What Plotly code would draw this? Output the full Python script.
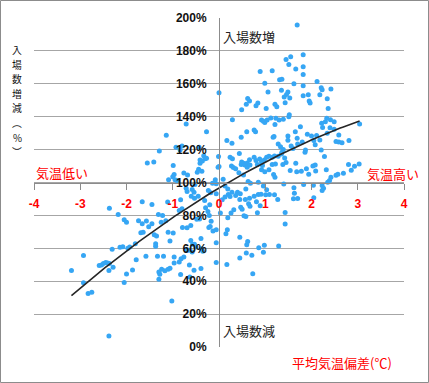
import numpy as np
import plotly.graph_objects as go

# ---- data: average temperature deviation (°C) vs attendance change (%) ----
temp_dev = [
 1.69,1.45,1.55,1.82,1.51,1.66,1.82,0.89,1.15,1.82,1.31,1.36,0.99,2.12,1.62,1.82,2.21,2.23,2.42,1.06,
 1.35,1.49,1.46,1.41,1.53,1.82,1.93,2.18,2.34,1.95,1.97,0.62,0.66,0.59,0.84,0.80,1.21,1.25,1.43,1.02,
 2.36,0.49,1.52,0.00,
 0.29,0.92,0.96,0.99,1.04,1.12,1.23,1.30,1.39,1.51,1.21,0.79,0.76,0.60,0.48,0.17,0.28,1.17,1.19,1.49,
 1.49,1.65,1.76,1.69,1.80,1.91,2.00,1.70,1.56,1.60,1.87,1.86,1.28,1.33,1.39,1.36,2.22,2.24,2.30,2.33,
 2.41,2.49,2.40,2.49,2.34,2.11,2.18,2.53,2.59,2.66,2.59,2.81,3.04,2.28,2.21,2.05,2.08,
 -0.01,0.00,0.24,0.29,0.27,0.31,0.36,0.44,0.49,0.48,0.53,0.56,0.61,0.61,0.66,0.67,0.76,0.80,0.83,0.88,
 0.92,0.94,0.98,1.03,1.08,1.15,1.20,1.28,1.35,1.42,1.45,1.15,1.22,1.38,0.92,0.99,1.08,1.18,1.21,1.66,
 1.54,1.68,1.78,1.89,1.94,2.03,2.08,2.09,2.32,2.42,2.53,2.57,2.69,2.80,2.86,2.93,3.03,0.43,0.53,0.63,
 0.68,0.85,1.40,1.62,1.83,2.04,2.23,2.39,0.09,0.13,0.19,0.58,0.96,1.03,-0.06,2.26,2.35,
 -0.06,0.07,0.13,0.20,0.24,0.28,0.36,0.40,0.46,0.45,0.57,0.66,0.64,0.67,0.76,0.85,0.81,0.91,1.01,1.09,
 1.20,0.89,0.83,1.27,1.61,1.63,1.70,2.05,2.23,0.32,0.47,0.50,0.54,0.58,0.26,0.03,0.19,1.43,1.43,0.18,
 0.15,-0.06,0.45,0.62,0.60,-0.06,0.86,0.98,1.29,0.96,0.59,0.71,0.45,0.17,0.73,-0.06,
 -0.71,-0.27,-1.14,-0.93,-0.80,-0.84,-1.29,-1.55,-1.41,-0.99,-0.43,-0.33,-0.41,-0.30,-0.41,-0.44,-0.37,-0.47,-0.76,-0.68,
 -0.97,-0.95,-1.09,-0.14,-0.91,-1.00,-0.71,-0.69,-0.58,-0.54,-0.52,-0.08,-0.23,-0.18,-0.02,-0.36,-0.27,
 -1.22,-1.25,-0.83,-0.86,-0.80,-0.60,-0.53,-0.45,-0.31,-0.29,-0.20,-0.24,-0.21,-0.17,-0.19,-0.22,-0.13,-0.48,-0.42,-0.79,
 -0.69,-0.61,-0.99,-1.10,-1.06,-0.61,-0.57,-0.53,-0.50,-0.39,-0.38,-0.35,-0.71,-0.65,-0.58,-1.20,-0.97,-0.82,-0.76,-0.97,
 -0.86,-0.64,-0.39,-0.54,-1.24,-1.17,-1.10,-1.06,-1.28,-0.83,-0.63,-1.02,
 -1.66,-1.45,-2.37,-2.18,-2.05,-2.00,-1.74,-1.66,-1.69,-1.64,-1.57,-1.52,-1.45,-1.40,-1.35,-1.37,-1.37,-1.31,-1.33,-1.30,
 -1.30,-1.81,-1.93,-1.97,-2.08,-2.14,-2.31,-2.93,-1.58,-1.79,-2.59,-2.54,-2.50,-2.45,-2.41,-2.37,-2.38,-2.29,-1.87,-2.00,
 -3.19,-2.05,-2.93,-2.83,-2.75,-2.38,-1.11,-1.15,
]
attendance = [
 195.8,174.7,176.5,177.6,171.7,169.0,170.3,167.5,168.0,165.6,162.4,162.8,160.4,161.4,160.0,158.8,157.6,156.4,156.8,155.0,
 156.1,155.0,153.5,152.0,151.3,152.7,153.3,153.3,150.9,149.5,148.3,151.0,149.5,147.5,148.3,146.7,147.5,146.0,148.5,145.0,
 145.0,144.2,141.2,154.5,
 138.2,138.0,137.2,136.4,138.0,139.2,139.0,138.0,138.4,140.0,135.2,130.9,131.9,130.9,127.5,125.5,123.8,127.5,127.9,128.3,
 125.7,130.9,133.9,126.9,124.6,129.3,128.3,123.4,122.2,120.6,119.8,118.4,123.4,121.8,120.0,118.4,136.0,133.5,137.0,139.0,
 138.2,137.0,133.3,132.3,129.9,128.5,125.9,125.0,124.6,124.2,128.9,125.5,135.5,115.8,119.8,125.5,123.0,
 115.8,109.7,115.3,114.5,110.1,109.1,108.3,117.6,112.5,110.9,111.7,110.7,111.9,109.3,113.9,110.7,115.3,113.3,110.9,114.3,
 112.5,110.3,113.7,115.3,115.9,115.3,116.1,115.9,117.3,114.9,112.1,110.9,111.3,110.9,107.7,106.5,107.7,104.8,103.2,111.7,
 107.3,106.5,106.8,108.3,105.0,110.1,110.7,107.0,107.7,103.2,104.4,105.0,105.6,110.9,107.5,109.9,111.3,106.0,104.6,100.6,
 99.6,100.2,99.1,96.8,98.8,98.4,98.2,101.2,102.0,97.9,96.1,96.1,97.9,95.6,99.2,96.5,100.2,
 93.1,89.5,91.2,92.7,91.5,94.1,92.1,94.1,93.1,89.7,89.7,90.5,87.1,85.6,91.7,92.7,88.3,92.9,92.5,92.7,
 92.5,85.9,81.6,89.7,90.1,93.5,90.3,90.7,95.2,83.4,85.0,83.8,79.8,79.4,81.4,81.4,78.6,81.8,74.7,71.3,
 68.9,71.3,66.7,64.2,62.2,63.4,60.4,61.8,61.4,57.6,57.2,55.8,54.1,50.1,44.6,51.3,
 135.6,130.9,128.7,121.4,122.2,119.8,119.2,111.9,112.5,110.3,121.4,116.2,113.7,114.5,111.7,108.1,106.9,106.3,105.7,104.6,
 104.8,101.6,101.6,99.6,101.2,103.5,96.5,94.5,95.8,94.1,98.8,101.6,95.2,93.8,109.3,113.0,114.7,
 80.0,75.9,89.5,83.0,84.0,91.7,90.5,91.7,89.1,84.6,86.5,82.4,80.0,76.4,73.3,72.7,70.5,77.6,77.8,72.7,
 72.5,73.9,69.3,69.7,64.4,64.8,62.4,62.4,60.8,65.9,59.8,58.2,58.8,58.8,57.8,55.2,54.7,53.7,54.7,51.1,
 51.7,49.9,47.7,46.7,47.3,46.3,47.3,47.9,44.2,44.0,42.6,27.9,
 88.3,86.7,84.4,80.6,77.3,75.8,76.7,74.9,69.5,69.7,76.6,73.1,74.9,68.3,67.5,62.8,61.2,80.6,55.2,41.2,
 45.6,62.8,60.8,60.0,61.0,60.6,59.4,55.6,55.2,53.1,49.5,49.9,50.7,51.3,51.1,50.7,46.5,48.5,46.8,44.4,
 46.5,39.2,39.0,32.5,33.3,6.7,88.1,76.8,
]

x_ticks = [-4, -3, -2, -1, 0, 1, 2, 3, 4]
y_ticks = [0, 20, 40, 60, 80, 100, 120, 140, 160, 180, 200]
y_title_chars = ["入", "場", "数", "増", "減", "︵", "%", "︶"]
label_up = "入場数増"
label_down = "入場数減"
label_cold = "気温低い"
label_hot = "気温高い"
x_title = "平均気温偏差(℃)"

# ---- polynomial (order 2) trendline fitted to the data ----
xs = np.array(temp_dev)
ys = np.array(attendance)
coef = np.polyfit(xs, ys, 2)
tx = np.linspace(xs.min(), xs.max(), 120)
ty = np.polyval(coef, tx)

CJK = "Noto Sans CJK JP"
NUM = "Liberation Sans, Arial, sans-serif"

fig = go.Figure()
fig.add_trace(go.Scatter(x=temp_dev, y=attendance, mode="markers",
                         marker=dict(size=5, color="#36A6F4"), showlegend=False))
fig.add_trace(go.Scatter(x=tx, y=ty, mode="lines",
                         line=dict(color="#262626", width=1.6), showlegend=False))

L, R, T, B = 34, 25, 18, 36
W, H = 429, 383
pw, ph = W - L - R, H - T - B

annotations = []
# vertical (stacked) y-axis title, one character per annotation
for i, ch in enumerate(y_title_chars):
    py = 50 + 14.6 * i
    annotations.append(dict(text=ch, xref="paper", yref="paper",
                            x=(17 - L) / pw, y=(H - B - py) / ph,
                            xanchor="center", yanchor="middle", showarrow=False,
                            borderpad=0,
                            font=dict(family=CJK, size=9.8, color="#111")))
annotations += [
    dict(text=label_up, x=0.05, y=189, xref="x", yref="y", xanchor="left", yanchor="middle",
         showarrow=False, font=dict(family=CJK, size=13, color="#222")),
    dict(text=label_down, x=0.05, y=10.3, xref="x", yref="y", xanchor="left", yanchor="middle",
         showarrow=False, font=dict(family=CJK, size=13, color="#222")),
    dict(text=label_cold, x=-3.99, y=105.8, xref="x", yref="y", xanchor="left", yanchor="middle",
         showarrow=False, font=dict(family=CJK, size=13, color="#FF0000")),
    dict(text=label_hot, x=3.16, y=105.5, xref="x", yref="y", xanchor="left", yanchor="middle",
         showarrow=False, font=dict(family=CJK, size=13, color="#FF0000")),
    dict(text=x_title, x=(290 - L) / pw, y=(H - B - 362) / ph, xref="paper", yref="paper",
         xanchor="left", yanchor="middle", showarrow=False,
         font=dict(family=CJK, size=13, color="#FF0000")),
]

fig.update_layout(
    width=W, height=H,
    margin=dict(l=L, r=R, t=T, b=B, autoexpand=False),
    paper_bgcolor="white", plot_bgcolor="white",
    showlegend=False,
    annotations=annotations,
    shapes=[dict(type="rect", xref="paper", yref="paper",
                 x0=(0.5 - L) / pw, x1=(W - 0.5 - L) / pw,
                 y0=(H - B - (H - 0.5)) / ph, y1=(H - B - 0.5) / ph,
                 line=dict(color="#8C8C8C", width=1), fillcolor="rgba(0,0,0,0)", layer="below")],
    xaxis=dict(range=[-4, 4], tickvals=x_ticks, ticktext=[str(v) for v in x_ticks],
               anchor="free", position=0.5, showgrid=False, zeroline=False,
               showline=True, linecolor="#8C8C8C", linewidth=1, automargin=False,
               ticks="outside", ticklen=6, tickcolor="#8C8C8C", ticklabelstandoff=4,
               tickfont=dict(family=NUM, size=12, color="#FF0000", weight="bold")),
    yaxis=dict(range=[0, 200], tickvals=y_ticks, ticktext=[f"{v}%" for v in y_ticks],
               anchor="free", position=0.5, showgrid=True, gridcolor="#A6A6A6", gridwidth=1,
               zeroline=False, showline=True, linecolor="#8C8C8C", linewidth=1, automargin=False,
               ticks="", ticklabelstandoff=10,
               tickfont=dict(family=NUM, size=12, color="#111", weight="bold")),
)

fig.write_html("out.html", config={"displayModeBar": False},
               post_script="document.body.style.margin='0px';document.body.style.overflow='hidden';")
